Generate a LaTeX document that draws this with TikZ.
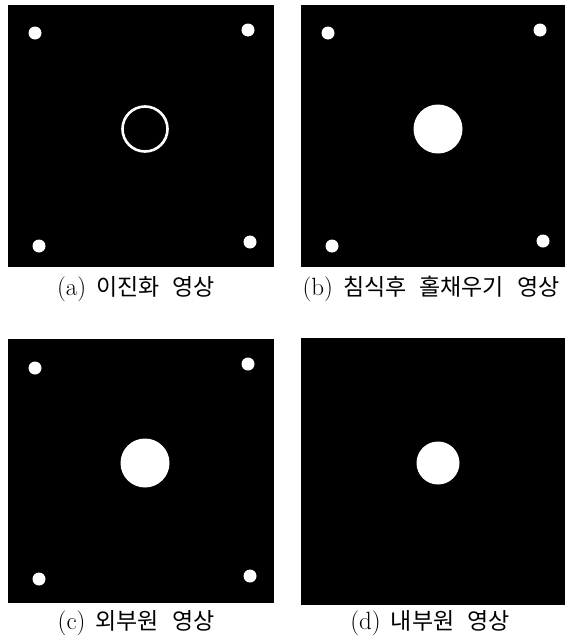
\documentclass[tikz,border=0pt]{standalone}
\usepackage{fontspec}
\newfontfamily\kr{Noto Sans CJK KR}[Scale=1]
\newcommand{\wsp}{\hspace{13pt}}
\newcommand{\psp}{\hspace{10pt}}
\begin{document}
\begin{tikzpicture}[x=1pt,y=-1pt,
  panel/.style={fill=black},
  dot/.style={circle,fill=white,inner sep=0pt,minimum size=13pt},
  bigdot/.style={circle,fill=white,inner sep=0pt,minimum size=#1},
  ring/.style={circle,draw=white,line width=2.6pt,inner sep=0pt,minimum size=45pt},
  captxt/.style={font=\kr\fontsize{23}{28}\selectfont,inner sep=0pt,anchor=base}]
\useasboundingbox (0,0) rectangle (565,640);
% panel a
\fill[panel] (8,5) rectangle (274,267);
\node[dot] (a1) at (35,33) {};
\node[dot] (a2) at (248,30) {};
\node[dot] (a3) at (39,246) {};
\node[dot] (a4) at (250,242) {};
\node[ring] (ac) at (145,129) {};
\node[captxt] (ca) at (136,295) {{\rmfamily\fontsize{25}{28}\selectfont(a)}\psp 이진화\wsp 영상};
% panel b
\fill[panel] (301,5) rectangle (565,267);
\node[dot] (b1) at (328,33) {};
\node[dot] (b2) at (540,30) {};
\node[dot] (b3) at (332,246) {};
\node[dot] (b4) at (543,241) {};
\node[bigdot=49pt] (bc) at (438,129) {};
\node[captxt] (cb) at (431,295) {{\rmfamily\fontsize{25}{28}\selectfont(b)}\psp 침식후\wsp 홀채우기\wsp 영상};
% panel c
\fill[panel] (8,339) rectangle (274,603);
\node[dot] (c1) at (35,368) {};
\node[dot] (c2) at (248,364) {};
\node[dot] (c3) at (39,579) {};
\node[dot] (c4) at (250,576) {};
\node[bigdot=49pt] (cc) at (145,463) {};
\node[captxt] (ccap) at (136,629) {{\rmfamily\fontsize{25}{28}\selectfont(c)}\psp 외부원\wsp 영상};
% panel d
\fill[panel] (301,338) rectangle (565,605);
\node[bigdot=43pt] (dc) at (438,463) {};
\node[captxt] (cd) at (430,629) {{\rmfamily\fontsize{25}{28}\selectfont(d)}\psp 내부원\wsp 영상};
\end{tikzpicture}
\end{document}
